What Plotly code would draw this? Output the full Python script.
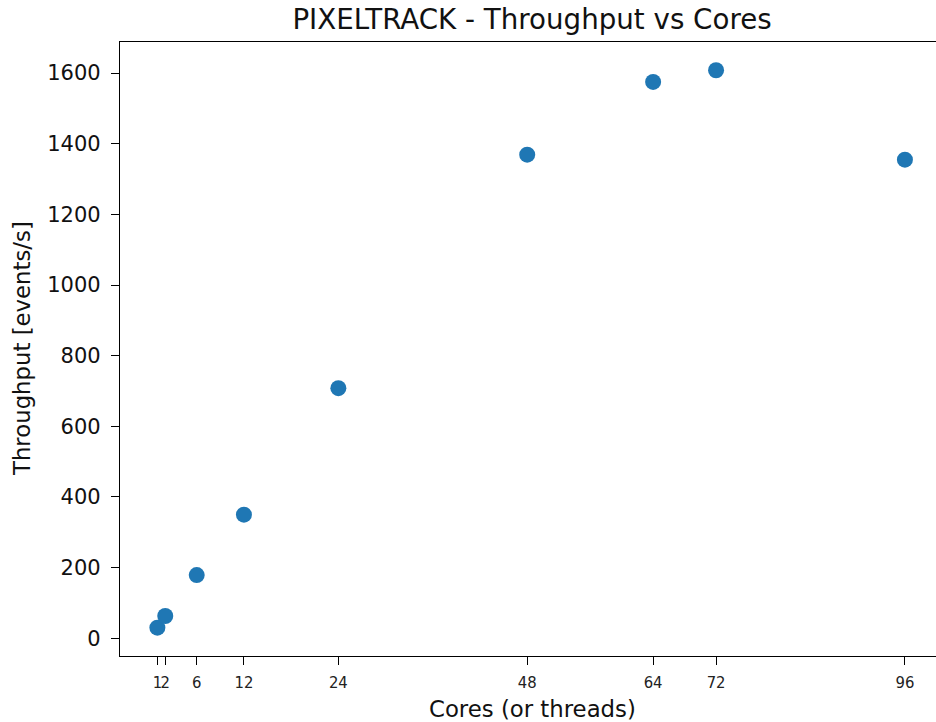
import plotly.graph_objects as go

# Throughput measurements per core/thread count
cores = [1, 2, 6, 12, 24, 48, 64, 72, 96]
throughput = [30, 63, 179, 350, 708, 1369, 1575, 1608, 1355]
tick_values = [1, 2, 6, 12, 24, 48, 64, 72, 96]
tick_labels = ["1", "2", "6", "12", "24", "48", "64", "72", "96"]

W, H = 936, 722
L, R, T, B = 120, 0, 42, 66
plot_w = W - L - R
plot_h = H - T - B

FONT = "DejaVu Sans"

fig = go.Figure()
fig.add_trace(go.Scatter(
    x=cores, y=throughput, mode="markers",
    marker=dict(color="#1f77b4", size=16, line=dict(width=0)),
    showlegend=False, hoverinfo="x+y",
))

fig.update_layout(
    width=W, height=H,
    margin=dict(l=L, r=R, t=T, b=B, pad=0),
    paper_bgcolor="white", plot_bgcolor="white",
    font=dict(family=FONT, color="#111"),
    title=dict(
        text="PIXELTRACK - Throughput vs Cores",
        font=dict(size=27.7, family=FONT, color="#111"),
        xref="paper", x=(532 - L) / plot_w, xanchor="center",
        yref="container", y=1 - 19 / H, yanchor="middle",
    ),
)

fig.update_xaxes(
    range=[-3.75, 99.95],
    tickmode="array", tickvals=tick_values, ticktext=tick_labels,
    tickangle=0,
    tickfont=dict(size=16.5, family="Liberation Sans Narrow, DejaVu Sans Condensed, DejaVu Sans", color="#222"),
    ticks="outside", ticklen=8, tickwidth=1.2, tickcolor="black",
    ticklabelstandoff=3,
    showline=True, linecolor="black", linewidth=1.3, mirror=True,
    showgrid=False, zeroline=False,
)
fig.update_yaxes(
    range=[-50.2, 1688],
    tickmode="array", tickvals=[0, 200, 400, 600, 800, 1000, 1200, 1400, 1600],
    tickfont=dict(size=21, family=FONT, color="#111"),
    ticks="outside", ticklen=8, tickwidth=1.2, tickcolor="black",
    ticklabelstandoff=6,
    showline=True, linecolor="black", linewidth=1.3, mirror=False,
    showgrid=False, zeroline=False,
)

# Axis titles placed as annotations
fig.add_annotation(
    text="Cores (or threads)", showarrow=False,
    xref="paper", yref="paper",
    x=(532 - L) / plot_w, y=(656 - 709) / plot_h,
    xanchor="center", yanchor="middle",
    font=dict(size=22.8, family=FONT, color="#111"),
)
fig.add_annotation(
    text="Throughput [events/s]", showarrow=False, textangle=-90,
    xref="paper", yref="paper",
    x=(22 - L) / plot_w, y=0.5,
    xanchor="center", yanchor="middle",
    font=dict(size=22.8, family=FONT, color="#111"),
)

fig.write_html("out.html")
